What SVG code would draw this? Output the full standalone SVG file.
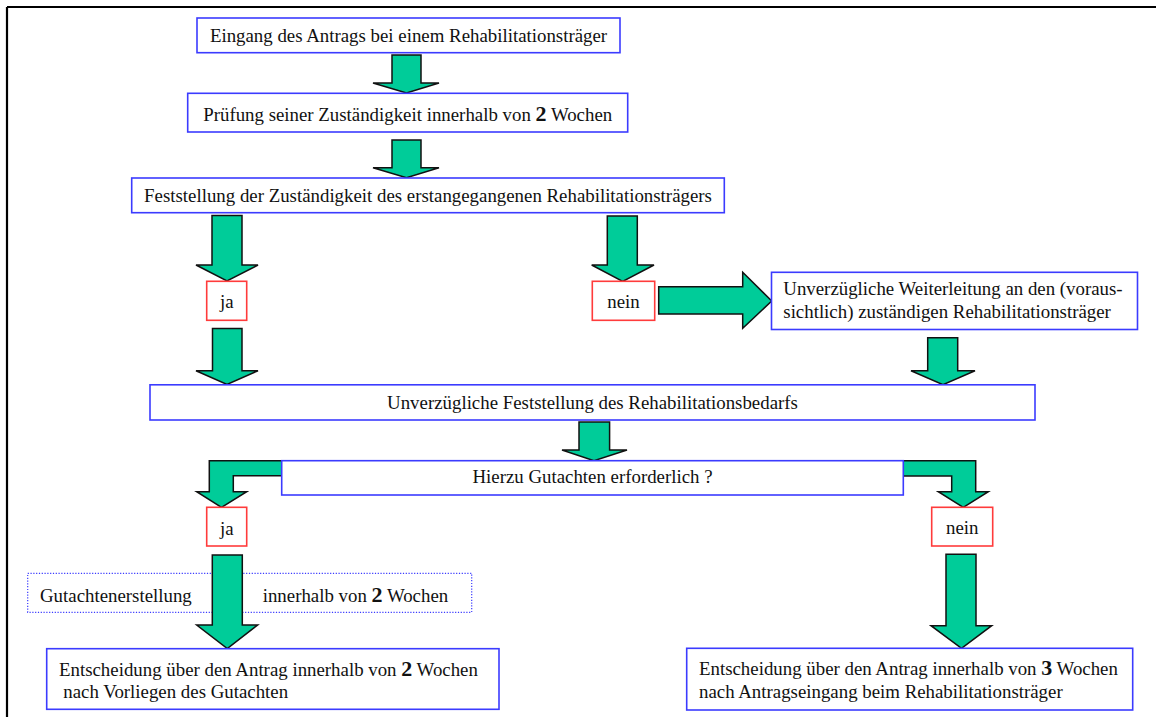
<svg xmlns="http://www.w3.org/2000/svg" width="1156" height="717" viewBox="0 0 1156 717">
<style>
.box{fill:#fff;stroke:#3b3bff;stroke-width:1.6}
.red{fill:#fff;stroke:#ff3b3b;stroke-width:1.6}
.dot{fill:none;stroke:#3b3bff;stroke-width:1.2;stroke-dasharray:1.2 1.6}
.arr{fill:#00cc99;stroke:#111;stroke-width:1.5;stroke-linejoin:miter}
.c{text-anchor:middle}
.b{font-weight:bold;font-size:22px}
</style>
<rect width="1156" height="717" fill="#fff"/>
<path d="M7,7 H1160 M7,7 V720" fill="none" stroke="#000" stroke-width="2.2"/>
<g font-family="Liberation Serif, Times New Roman, DejaVu Serif, serif" font-size="18.85" fill="#111">
<g id="gutachten">
<rect class="dot" x="27.7" y="573.3" width="444" height="39"/>
<text x="40" y="601.7">Gutachtenerstellung</text>
<text x="262.7" y="601.7">innerhalb von <tspan class="b">2</tspan> Wochen</text>
</g>

<g id="connectors">
<polygon class="arr" points="392,55 421,55 421,83 439,83 406.5,93 373,83 392,83"/>
<polygon class="arr" points="392,140 421,140 421,167.7 439,167.7 406.5,177.7 373,167.7 392,167.7"/>
<polygon class="arr" points="212,215.5 242,215.5 242,265 258,265 227,281 196,265 212,265"/>
<polygon class="arr" points="212.5,328.5 242,328.5 242,370.7 258,370.7 227,384.5 196,370.7 212.5,370.7"/>
<polygon class="arr" points="607.3,216 637.3,216 637.3,265 654,265 622.7,281.3 591.7,265 607.3,265"/>
<polygon class="arr" points="658.7,286.7 742.7,286.7 742.7,272.3 771.7,301 742.7,328.3 742.7,314 658.7,314"/>
<polygon class="arr" points="927.7,337.7 957.7,337.7 957.7,370.7 975,370.7 943,384.7 911,370.7 927.7,370.7"/>
<polygon class="arr" points="579,422 609.6,422 609.6,450 627,450 594,460.7 562,450 579,450"/>
<polygon class="arr" points="282,460.7 209.3,460.7 209.3,491.7 196.7,491.7 221.5,507.3 246.7,491.7 233.3,491.7 233.3,475.7 282,475.7"/>
<polygon class="arr" points="903,460.7 975.7,460.7 975.7,491.7 988.3,491.7 963.3,507.3 938.3,491.7 951.7,491.7 951.7,476 903,476"/>
<polygon class="arr" points="212.3,555 242.3,555 242.3,625 257.7,625 227.3,648.5 196.7,625 212.3,625"/>
<polygon class="arr" points="946,554.3 976,554.3 976,625.7 991.7,625.7 961.5,648.3 931,625.7 946,625.7"/>
</g>

<g id="eingang">
<rect class="box" x="197" y="18" width="423" height="34.7"/>
<text class="c" x="408.5" y="42">Eingang des Antrags bei einem Rehabilitationsträger</text>
</g>
<g id="pruefung">
<rect class="box" x="187.7" y="93.3" width="440" height="38.7"/>
<text class="c" x="407.7" y="120.7">Prüfung seiner Zuständigkeit innerhalb von <tspan class="b">2</tspan> Wochen</text>
</g>
<g id="feststellung">
<rect class="box" x="131.7" y="178" width="592.6" height="34.7"/>
<text class="c" x="428" y="201.7">Feststellung der Zuständigkeit des erstangegangenen Rehabilitationsträgers</text>
</g>
<g id="ja1">
<rect class="red" x="206.7" y="281.3" width="40" height="39"/>
<text class="c" x="226.7" y="308">ja</text>
</g>
<g id="nein1">
<rect class="red" x="592.3" y="281.3" width="62.4" height="39"/>
<text class="c" x="623.5" y="308.3">nein</text>
</g>
<g id="weiterleitung">
<rect class="box" x="771.5" y="272.3" width="366" height="57.2"/>
<text x="783.3" y="295">Unverzügliche Weiterleitung an den (voraus-</text>
<text x="783.3" y="318.3">sichtlich) zuständigen Rehabilitationsträger</text>
</g>
<g id="bedarf">
<rect class="box" x="150" y="384.8" width="885" height="35.2"/>
<text class="c" x="592.5" y="409.3">Unverzügliche Feststellung des Rehabilitationsbedarfs</text>
</g>
<g id="hierzu">
<rect class="box" x="281.7" y="460.7" width="621.6" height="34.3"/>
<text class="c" x="592.5" y="483.3">Hierzu Gutachten erforderlich ?</text>
</g>
<g id="ja2">
<rect class="red" x="206.7" y="507.3" width="40" height="38.7"/>
<text class="c" x="226.7" y="535">ja</text>
</g>
<g id="nein2">
<rect class="red" x="931.7" y="507.3" width="61" height="38.7"/>
<text class="c" x="962.2" y="534.3">nein</text>
</g>
<g id="entscheidung2">
<rect class="box" x="46.7" y="648.7" width="452.3" height="60.6"/>
<text x="59" y="675.7">Entscheidung über den Antrag innerhalb von <tspan class="b">2</tspan> Wochen</text>
<text x="63.3" y="698.3">nach Vorliegen des Gutachten</text>
</g>
<g id="entscheidung3">
<rect class="box" x="686.7" y="648.3" width="446" height="61.7"/>
<text x="699" y="675.3">Entscheidung über den Antrag innerhalb von <tspan class="b">3</tspan> Wochen</text>
<text x="699" y="697.7">nach Antragseingang beim Rehabilitationsträger</text>
</g>
</g>
</svg>
